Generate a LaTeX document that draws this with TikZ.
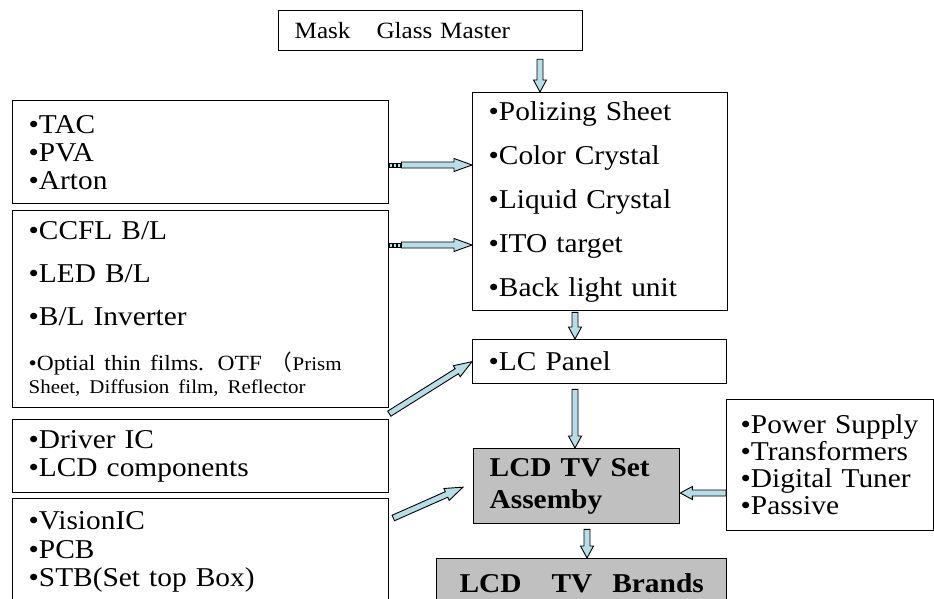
\documentclass[tikz,border=0pt]{standalone}
\usepackage{fontspec}
\setmainfont{Liberation Serif}[FakeStretch=1.08]
\newfontfamily\cjk{Noto Sans CJK SC}
\usetikzlibrary{calc}
\definecolor{arrowfill}{RGB}{183,222,232}
\definecolor{boxgray}{RGB}{192,192,192}
\tikzset{
  box/.style={draw, line width=1.3pt, anchor=north west, align=left, inner xsep=16pt, inner ysep=0pt,
    font=\fontsize{27.2}{28}\selectfont},
  barrow/.style={draw=black, line width=0.9pt, fill=arrowfill, line join=miter}
}
% block arrow from #2 to #3, head length #1
\newcommand\blockarrow[3][12pt]{%
  \path ($(#3)!#1!(#2)$) coordinate (ba);
  \draw[barrow] ($(#2)!3pt!-90:(#3)$) -- ($(ba)!3pt!90:(#2)$) -- ($(ba)!6.5pt!90:(#2)$) -- (#3)
    -- ($(ba)!6.5pt!-90:(#2)$) -- ($(ba)!3pt!-90:(#2)$) -- ($(#2)!3pt!90:(#3)$) -- cycle;}

\begin{document}
\begin{tikzpicture}[x=1pt,y=-1pt]
  \clip (0,0) rectangle (934,599);
  \fill[white] (0,0) rectangle (934,599);

  \node[box, minimum width=304pt, minimum height=40pt, text width=272pt, font=\fontsize{23.3}{24}\selectfont] (mask) at (278,10) {Mask\hspace{26pt}Glass Master};

  \node[box, minimum width=376pt, minimum height=103pt, text width=344pt] (tac) at (12,100) {•TAC\\•PVA\\•Arton};
  \node[box, minimum width=376pt, minimum height=197pt, text width=344pt, font=\fontsize{27.2}{43}\selectfont] (ccfl) at (12,210)
    {•CCFL B/L\\•LED B/L\\•B/L Inverter\\[2pt]{\fontsize{21.7}{43}\selectfont •Optial thin films. OTF {\cjk （}\fontsize{19.4}{43}\selectfont Prism}\\[-20pt]{\fontsize{19.4}{43}\selectfont Sheet, Diffusion film, Reflector}};
  \node[box, minimum width=376pt, minimum height=73pt, text width=344pt] (driver) at (12,419) {•Driver IC\\•LCD components\\[-6pt]};
  \node[box, minimum width=376pt, minimum height=107pt, text width=344pt, font=\fontsize{27.2}{28.5}\selectfont] (vision) at (12,498) {•VisionIC\\•PCB\\•STB(Set top Box)};

  \node[box, minimum width=255pt, minimum height=218pt, text width=223pt, font=\fontsize{27.2}{44}\selectfont] (polar) at (472,92)
    {•Polizing Sheet\\•Color Crystal\\•Liquid Crystal\\•ITO target\\•Back light unit};
  \node[box, minimum width=254pt, minimum height=44pt, text width=222pt] (panel) at (472,339) {•LC Panel};
  \node[box, fill=boxgray, minimum width=206pt, minimum height=75pt, text width=174pt, font=\bfseries\fontsize{27.2}{32}\selectfont] (tvset) at (473,448) {LCD TV Set\\Assemby};
  \node[box, minimum width=207pt, minimum height=131pt, inner xsep=14pt, text width=179pt, font=\fontsize{27.2}{27}\selectfont] (power) at (726,399)
    {•Power~Supply\\•Transformers\\•Digital~Tuner\\•Passive};
  \node[box, fill=boxgray, align=center, minimum width=290pt, minimum height=50pt, text width=258pt, font=\bfseries\fontsize{27.2}{28}\selectfont] (brands) at (436,558)
    {LCD\hspace{30pt}TV\hspace{20pt}Brands};

  % arrows
  \coordinate (m1) at ($(polar.north west)+(68,0)$);
  \coordinate (m0) at ($(mask.south -| m1)+(0,8)$);
  \blockarrow{m0}{m1}

  \coordinate (t0) at ($(tac.north east)+(12,65)$);
  \coordinate (t1) at (t0 -| polar.west);
  \foreach \i in {0,4,8} \draw[barrow, line width=0.5pt] ($(tac.north east)+(\i,63)$) rectangle ++(3,4);
  \blockarrow[18pt]{t0}{t1}

  \coordinate (c0) at ($(ccfl.north east)+(12,35)$);
  \coordinate (c1) at (c0 -| polar.west);
  \foreach \i in {0,4,8} \draw[barrow, line width=0.5pt] ($(ccfl.north east)+(\i,33)$) rectangle ++(3,4);
  \blockarrow[18pt]{c0}{c1}

  \coordinate (d0) at ($(ccfl.south east)!0.5!(driver.north east)$);
  \blockarrow[18pt]{d0}{panel.west}

  \coordinate (v0) at ($(vision.north east)+(4,20)$);
  \coordinate (v1) at ($(tvset.west)+(-10,1)$);
  \blockarrow[18pt]{v0}{v1}

  \coordinate (p0) at ($(polar.south west)+(103,1)$);
  \coordinate (p1) at (p0 |- panel.north);
  \blockarrow{p0}{p1}

  \coordinate (q0) at ($(panel.south west)+(103,5)$);
  \coordinate (q1) at (q0 |- tvset.north);
  \blockarrow{q0}{q1}

  \coordinate (w0) at ($(power.north west)+(0,94)$);
  \coordinate (w1) at (w0 -| tvset.east);
  \blockarrow{w0}{w1}

  \coordinate (b0) at ($(tvset.south west)+(114,5)$);
  \coordinate (b1) at (b0 |- brands.north);
  \blockarrow{b0}{b1}
\end{tikzpicture}
\end{document}
